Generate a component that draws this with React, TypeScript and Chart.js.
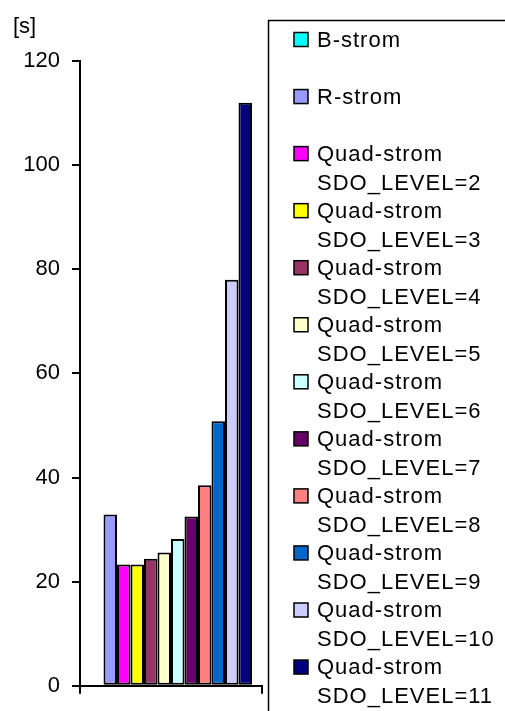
import React, { useEffect, useRef } from "react";
import { Chart, registerables } from "chart.js";

Chart.register(...registerables);

const seriesNames: string[] = [
  "B-strom",
  "R-strom",
  "Quad-strom\nSDO_LEVEL=2",
  "Quad-strom\nSDO_LEVEL=3",
  "Quad-strom\nSDO_LEVEL=4",
  "Quad-strom\nSDO_LEVEL=5",
  "Quad-strom\nSDO_LEVEL=6",
  "Quad-strom\nSDO_LEVEL=7",
  "Quad-strom\nSDO_LEVEL=8",
  "Quad-strom\nSDO_LEVEL=9",
  "Quad-strom\nSDO_LEVEL=10",
  "Quad-strom\nSDO_LEVEL=11",
];
const seriesValues: number[] = [0, 32.9, 23.3, 23.3, 24.4, 25.6, 28.2, 32.5, 38.5, 50.8, 78.0, 112.0];
const seriesColors: string[] = [
  "#00FFFF",
  "#9999FF",
  "#FF00FF",
  "#FFFF00",
  "#993366",
  "#FFFFCC",
  "#CCFFFF",
  "#660066",
  "#FF8080",
  "#0066CC",
  "#CCCCFF",
  "#000080",
];
const categories: string[] = [""];
const yUnit = "[s]";
const yMin = 0;
const yMax = 120;
const yStep = 20;

const FONT = "'Liberation Sans', Arial, sans-serif";

const legendPlugin = {
  id: "customLegend",
  afterDraw(chart: any) {
    const ctx = chart.ctx as CanvasRenderingContext2D;
    ctx.save();
    // unit label
    ctx.fillStyle = "#000";
    ctx.font = `22px ${FONT}`;
    ctx.textAlign = "left";
    ctx.textBaseline = "middle";
    ctx.fillText(yUnit, 13, 27);

    // legend box
    ctx.strokeStyle = "#000";
    ctx.lineWidth = 1.5;
    ctx.strokeRect(268.5, 20.5, 400, 800);

    (ctx as any).letterSpacing = "1px";
    const items = chart.data.datasets;
    items.forEach((ds: any, i: number) => {
      const yc = 39.5 + 57.05 * i;
      ctx.fillStyle = ds.backgroundColor;
      ctx.fillRect(294, yc - 7, 14, 14);
      ctx.lineWidth = 1.5;
      ctx.strokeStyle = "#000";
      ctx.strokeRect(294, yc - 7, 14, 14);
      ctx.fillStyle = "#000";
      ctx.font = `22px ${FONT}`;
      const lines = String(ds.label).split("\n");
      lines.forEach((line: string, j: number) => {
        ctx.fillText(line, 317, yc + 1 + j * 29);
      });
    });
    ctx.restore();
  },
};

export default function App() {
  const canvasRef = useRef<HTMLCanvasElement | null>(null);

  useEffect(() => {
    document.body.style.margin = "0";
    const canvas = canvasRef.current;
    if (!canvas) return;
    const chart = new Chart(canvas, {
      type: "bar",
      data: {
        labels: categories,
        datasets: seriesNames.map((name, i) => ({
          label: name,
          data: [seriesValues[i]],
          backgroundColor: seriesColors[i],
          borderColor: "#000",
          borderWidth: 2,
          borderSkipped: false,
          categoryPercentage: 0.89,
          barPercentage: 1,
        })),
      },
      options: {
        animation: false,
        responsive: false,
        devicePixelRatio: 1,
        layout: { padding: { top: 61, right: 243, left: 0, bottom: 0 } },
        plugins: {
          legend: { display: false },
          title: { display: false },
          tooltip: { enabled: false },
        },
        scales: {
          x: {
            type: "category",
            offset: true,
            grid: {
              offset: true,
              drawOnChartArea: false,
              drawTicks: true,
              tickLength: 8,
              color: "#000",
              lineWidth: 2,
            },
            border: { display: true, color: "#000", width: 2 },
            ticks: { display: false },
            afterFit(scale: any) {
              scale.height = 24.3;
            },
          },
          y: {
            min: yMin,
            max: yMax,
            ticks: {
              stepSize: yStep,
              color: "#000",
              padding: 12,
              font: { family: FONT, size: 22 },
            },
            grid: {
              drawOnChartArea: false,
              drawTicks: true,
              tickLength: 8,
              color: "#000",
              lineWidth: 2,
            },
            border: { display: true, color: "#000", width: 2 },
            afterFit(scale: any) {
              scale.width = 80;
            },
          },
        },
      },
      plugins: [legendPlugin],
    });
    return () => chart.destroy();
  }, []);

  return (
    <div style={{ position: "fixed", left: 0, top: 0, width: 505, height: 711, background: "#fff" }}>
      <canvas ref={canvasRef} width={505} height={711} style={{ width: 505, height: 711 }} />
    </div>
  );
}
